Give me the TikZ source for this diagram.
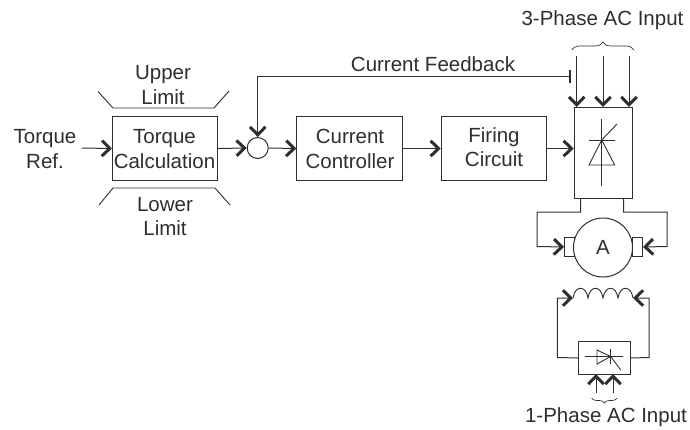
\documentclass[tikz,border=0pt]{standalone}
\usepackage{fontspec}
\setmainfont{Liberation Sans}
\usetikzlibrary{arrows.meta,decorations.pathreplacing}
\definecolor{ink}{HTML}{2E2E2E}
\tikzset{
  every picture/.style={x=1pt,y=-1pt},
  lbl/.style={inner sep=0pt,align=center,text=ink,font=\fontsize{20.5}{24.5}\selectfont},
  blockbox/.style={draw=ink,line width=1pt,inner sep=0pt,anchor=north west},
  wire/.style={draw=ink,line width=1pt},
  thin part/.style={draw=ink,line width=.9pt},
  arrowed/.style={wire,-{Straight Barb[length=8pt,width=15.5pt,line width=3pt]}},
  bracepart/.style={draw=ink,line width=.7pt,decorate}
}
\begin{document}
\begin{tikzpicture}
\useasboundingbox (0,0) rectangle (690,429);
% boxes
\node[blockbox,minimum width=105pt,minimum height=64pt] (calc) at (112,116) {};
\node[blockbox,minimum width=105.5pt,minimum height=64pt] (ctrl) at (296.3,116) {};
\node[blockbox,minimum width=105pt,minimum height=64pt] (fire) at (440.7,116) {};
\node[blockbox,minimum width=58.5pt,minimum height=91pt] (conv) at (573.7,107) {};
\node[blockbox,minimum width=52pt,minimum height=33pt] (rect) at (578,341) {};
\node[draw=ink,line width=1pt,circle,minimum size=21pt,inner sep=0pt] (sum) at (257.7,148) {};
\node[blockbox,minimum width=9.5pt,minimum height=19pt] (bl) at (564,237) {};
\node[blockbox,minimum width=10pt,minimum height=19pt] (br) at (632,237) {};
\node[draw=ink,fill=white,line width=1pt,circle,minimum size=59pt,inner sep=0pt] (motor) at (603,247.5) {};
% labels
\node[lbl] (tref) at (45,149) {Torque\\Ref.};
\node[lbl] (ul) at (163,85) {Upper\\Limit};
\node[lbl] (ll) at (165,216.5) {Lower\\Limit};
\node[lbl] at (164.5,149) {Torque\\Calculation};
\node[lbl] at (350,149) {Current\\Controller};
\node[lbl] at (494,147) {Firing\\Circuit};
\node[lbl] (fb) at (433,64) {Current Feedback};
\node[lbl] (p3) at (602.5,20) {3-Phase AC Input};
\node[lbl] (p1) at (606,417) {1-Phase AC Input};
\node[lbl] at (motor.center) {A};
% limits
\draw[thin part] (98,91.5) -- (113,108) -- (214,108) -- (229,91);
\draw[thin part] (99,205) -- (113,188) -- (215,188) -- (230,205);
% forward path
\coordinate (tin) at (82,148);
\draw[arrowed] (tin) -- (calc.west);
\draw[arrowed] (calc.east) -- (sum.west);
\draw[arrowed] (sum.east) -- (ctrl.west);
\draw[arrowed] (ctrl.east) -- (fire.west);
\draw[arrowed] (fire.east) -- (fire.east -| conv.west);
% feedback
\coordinate (fbend) at (570,76);
\draw[arrowed] (fbend) -- (257.7,76) -- (sum.north);
\draw[draw=ink,line width=2pt] (570,70) -- (570,83);
% three-phase inputs
\foreach \n/\x in {a/576.7,b/603,c/629}{
  \coordinate (in\n) at (\x,56);
  \draw[arrowed] (in\n) -- (\x,107);
}
\draw[bracepart,decoration={brace,amplitude=8pt}] (571.7,50) -- (634,50);
% converter symbol
\draw[thin part] (601.7,119) -- (601.7,186);
\draw[thin part] (589,140) -- (614.7,140);
\draw[thin part] (601.7,140) -- (589,165) -- (614.7,165) -- cycle;
\draw[thin part] (601.7,140) -- (617,124);
% motor feeds
\draw[arrowed] (580.7,198) -- (580.7,212) -- (537,212) -- (537,246.5) -- (bl.west);
\draw[arrowed] (623.7,198) -- (623.7,212) -- (667,212) -- (667,246.5) -- (br.east);
% field winding
\coordinate (fl) at (573,298);
\coordinate (fr) at (633,298);
\draw[thin part] (fl) .. controls (575,285) and (586,285) .. (588,298)
  .. controls (590,285) and (601,285) .. (603,298)
  .. controls (605,285) and (616,285) .. (618,298)
  .. controls (620,285) and (631,285) .. (fr);
\draw[arrowed] (rect.west) -- (557.3,357.5) -- (557.3,298) -- (fl);
\draw[arrowed] (rect.east) -- (649,357.5) -- (649,298) -- (fr);
% rectifier symbol
\draw[thin part] (585,356.5) -- (623,356.5);
\draw[thin part] (597,350) -- (610.7,356.5) -- (597,364) -- cycle;
\draw[thin part] (610.7,349) -- (610.7,364);
\draw[thin part] (610.7,356.5) -- (620.7,370);
% one-phase inputs
\coordinate (r1) at (596,393);
\coordinate (r2) at (613,393);
\draw[arrowed] (r1) -- (596,374);
\draw[arrowed] (r2) -- (613,374);
\draw[bracepart,decoration={brace,amplitude=5pt,mirror}] (591.7,398) -- (617,398);
\end{tikzpicture}
\end{document}
